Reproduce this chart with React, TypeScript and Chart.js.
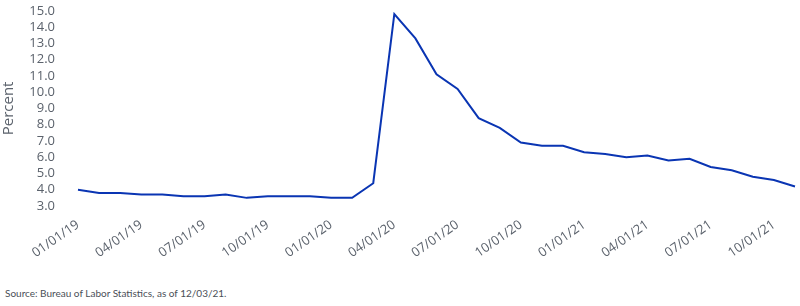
import React, { useEffect, useRef } from "react";
import { Chart, registerables } from "chart.js";

Chart.register(...registerables);

const months: string[] = [
  "01/01/19", "02/01/19", "03/01/19", "04/01/19", "05/01/19", "06/01/19",
  "07/01/19", "08/01/19", "09/01/19", "10/01/19", "11/01/19", "12/01/19",
  "01/01/20", "02/01/20", "03/01/20", "04/01/20", "05/01/20", "06/01/20",
  "07/01/20", "08/01/20", "09/01/20", "10/01/20", "11/01/20", "12/01/20",
  "01/01/21", "02/01/21", "03/01/21", "04/01/21", "05/01/21", "06/01/21",
  "07/01/21", "08/01/21", "09/01/21", "10/01/21", "11/01/21",
];

const unemployment: number[] = [
  4.0, 3.8, 3.8, 3.7, 3.7, 3.6, 3.6, 3.7, 3.5, 3.6, 3.6, 3.6,
  3.5, 3.5, 4.4, 14.8, 13.3, 11.1, 10.2, 8.4, 7.8, 6.9, 6.7, 6.7,
  6.3, 6.2, 6.0, 6.1, 5.8, 5.9, 5.4, 5.2, 4.8, 4.6, 4.2,
];

const shownTicks: string[] = [
  "01/01/19", "04/01/19", "07/01/19", "10/01/19",
  "01/01/20", "04/01/20", "07/01/20", "10/01/20",
  "01/01/21", "04/01/21", "07/01/21", "10/01/21",
];

const yMin = 3;
const yMax = 15;

export default function App() {
  const ref = useRef<HTMLCanvasElement | null>(null);

  useEffect(() => {
    if (!ref.current) return;
    const tickColor = "#5b626c";
    const fam = "'Open Sans', 'Liberation Sans', Arial, sans-serif";
    const chart = new Chart(ref.current, {
      type: "line",
      data: {
        labels: months,
        datasets: [
          {
            data: unemployment,
            borderColor: "#0a35b3",
            borderWidth: 2,
            pointRadius: 0,
            tension: 0,
            fill: false,
          },
        ],
      },
      options: {
        animation: false,
        responsive: false,
        maintainAspectRatio: false,
        layout: { padding: { top: 11, right: 5, left: 0, bottom: 0 } },
        plugins: { legend: { display: false }, tooltip: { enabled: false } },
        scales: {
          x: {
            offset: false,
            grid: { display: false, drawTicks: false },
            border: { display: false },
            afterFit: (scale: any) => {
              scale.height = 64;
            },
            ticks: {
              autoSkip: false,
              minRotation: 35,
              maxRotation: 35,
              padding: 11,
              color: tickColor,
              font: { family: fam, size: 13 },
              callback: function (this: any, _v: any, i: number) {
                const l = months[i];
                return shownTicks.includes(l) ? l : null;
              },
            },
          },
          y: {
            min: yMin,
            max: yMax,
            grid: { display: false, drawTicks: false },
            border: { display: false },
            afterFit: (scale: any) => {
              scale.width = 78;
            },
            title: {
              display: true,
              text: "Percent",
              color: tickColor,
              padding: { top: 0, bottom: 0 },
              font: { family: fam, size: 15 },
            },
            ticks: {
              stepSize: 1,
              autoSkip: false,
              padding: 23,
              color: tickColor,
              font: { family: fam, size: 13 },
              callback: (v: any) => Number(v).toFixed(1),
            },
          },
        },
      },
    });
    return () => chart.destroy();
  }, []);

  return (
    <div style={{ position: "fixed", left: 0, top: 0, width: 800, height: 306, background: "#fff", overflow: "hidden" }}>
      <canvas
        ref={ref}
        width={800}
        height={290}
        style={{ position: "absolute", left: 0, top: -20, display: "block", width: 800, height: 290 }}
      />
      <div
        style={{
          position: "absolute",
          left: 5,
          top: 287,
          fontFamily: "Lato, 'Liberation Sans', sans-serif",
          fontSize: 10,
          color: "#4a4f57",
          whiteSpace: "nowrap",
        }}
      >
        Source: Bureau of Labor Statistics, as of 12/03/21.
      </div>
    </div>
  );
}
